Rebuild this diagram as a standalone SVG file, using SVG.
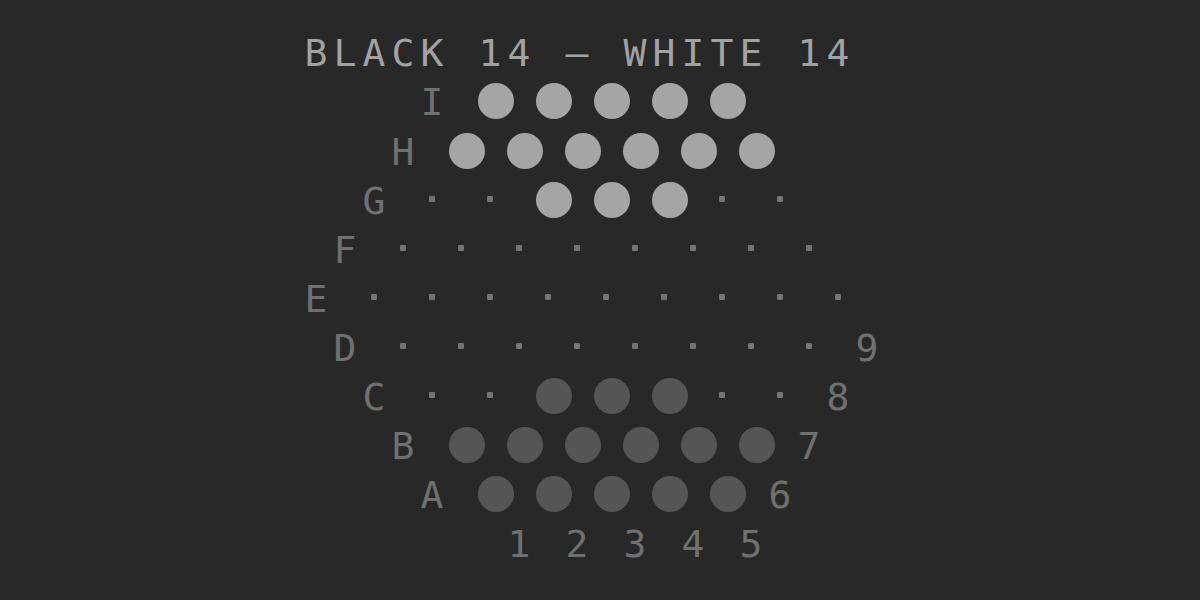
<svg xmlns="http://www.w3.org/2000/svg" width="1200" height="600" viewBox="0 0 1200 600">
<style>
.t{font-family:"DejaVu Sans Mono","Liberation Mono",monospace;font-size:38px;text-anchor:middle}
.title{fill:#a2a2a2}
.lab{fill:#707070}
.w{fill:#a5a5a5}
.b{fill:#555555}
.d{fill:#757575}
</style>
<defs>
<circle id="ball" r="18"/>
<rect id="dot" x="-3" y="-3" width="6" height="6" rx="1"/>
</defs>
<rect width="1200" height="600" fill="#282828"/>
<text id="title" class="t title" x="316 345 374 403 432 461 490 519 548 577 606 635 664 693 722 751 780 809 838" y="66">BLACK 14 – WHITE 14</text>
<g id="row-I">
<text class="t lab" x="432" y="115">I</text>
<g class="w"><use href="#ball" x="496" y="101"/><use href="#ball" x="554" y="101"/><use href="#ball" x="612" y="101"/><use href="#ball" x="670" y="101"/><use href="#ball" x="728" y="101"/></g>
</g>
<g id="row-H">
<text class="t lab" x="403" y="165">H</text>
<g class="w"><use href="#ball" x="467" y="151"/><use href="#ball" x="525" y="151"/><use href="#ball" x="583" y="151"/><use href="#ball" x="641" y="151"/><use href="#ball" x="699" y="151"/><use href="#ball" x="757" y="151"/></g>
</g>
<g id="row-G">
<text class="t lab" x="374" y="214">G</text>
<g class="d"><use href="#dot" x="432" y="199"/><use href="#dot" x="490" y="199"/><use href="#dot" x="722" y="199"/><use href="#dot" x="780" y="199"/></g>
<g class="w"><use href="#ball" x="554" y="200"/><use href="#ball" x="612" y="200"/><use href="#ball" x="670" y="200"/></g>
</g>
<g id="row-F">
<text class="t lab" x="345" y="263">F</text>
<g class="d"><use href="#dot" x="403" y="248"/><use href="#dot" x="461" y="248"/><use href="#dot" x="519" y="248"/><use href="#dot" x="577" y="248"/><use href="#dot" x="635" y="248"/><use href="#dot" x="693" y="248"/><use href="#dot" x="751" y="248"/><use href="#dot" x="809" y="248"/></g>
</g>
<g id="row-E">
<text class="t lab" x="316" y="312">E</text>
<g class="d"><use href="#dot" x="374" y="297"/><use href="#dot" x="432" y="297"/><use href="#dot" x="490" y="297"/><use href="#dot" x="548" y="297"/><use href="#dot" x="606" y="297"/><use href="#dot" x="664" y="297"/><use href="#dot" x="722" y="297"/><use href="#dot" x="780" y="297"/><use href="#dot" x="838" y="297"/></g>
</g>
<g id="row-D">
<text class="t lab" x="345" y="361">D</text>
<g class="d"><use href="#dot" x="403" y="346"/><use href="#dot" x="461" y="346"/><use href="#dot" x="519" y="346"/><use href="#dot" x="577" y="346"/><use href="#dot" x="635" y="346"/><use href="#dot" x="693" y="346"/><use href="#dot" x="751" y="346"/><use href="#dot" x="809" y="346"/></g>
<text class="t lab" x="867" y="361">9</text>
</g>
<g id="row-C">
<text class="t lab" x="374" y="410">C</text>
<g class="d"><use href="#dot" x="432" y="395"/><use href="#dot" x="490" y="395"/><use href="#dot" x="722" y="395"/><use href="#dot" x="780" y="395"/></g>
<g class="b"><use href="#ball" x="554" y="396"/><use href="#ball" x="612" y="396"/><use href="#ball" x="670" y="396"/></g>
<text class="t lab" x="838" y="410">8</text>
</g>
<g id="row-B">
<text class="t lab" x="403" y="459">B</text>
<g class="b"><use href="#ball" x="467" y="445"/><use href="#ball" x="525" y="445"/><use href="#ball" x="583" y="445"/><use href="#ball" x="641" y="445"/><use href="#ball" x="699" y="445"/><use href="#ball" x="757" y="445"/></g>
<text class="t lab" x="809" y="459">7</text>
</g>
<g id="row-A">
<text class="t lab" x="432" y="508">A</text>
<g class="b"><use href="#ball" x="496" y="494"/><use href="#ball" x="554" y="494"/><use href="#ball" x="612" y="494"/><use href="#ball" x="670" y="494"/><use href="#ball" x="728" y="494"/></g>
<text class="t lab" x="780" y="508">6</text>
</g>
<g id="columns">
<text class="t lab" x="519" y="557">1</text>
<text class="t lab" x="577" y="557">2</text>
<text class="t lab" x="635" y="557">3</text>
<text class="t lab" x="693" y="557">4</text>
<text class="t lab" x="751" y="557">5</text>
</g>
<g id="connectors"/>
</svg>
